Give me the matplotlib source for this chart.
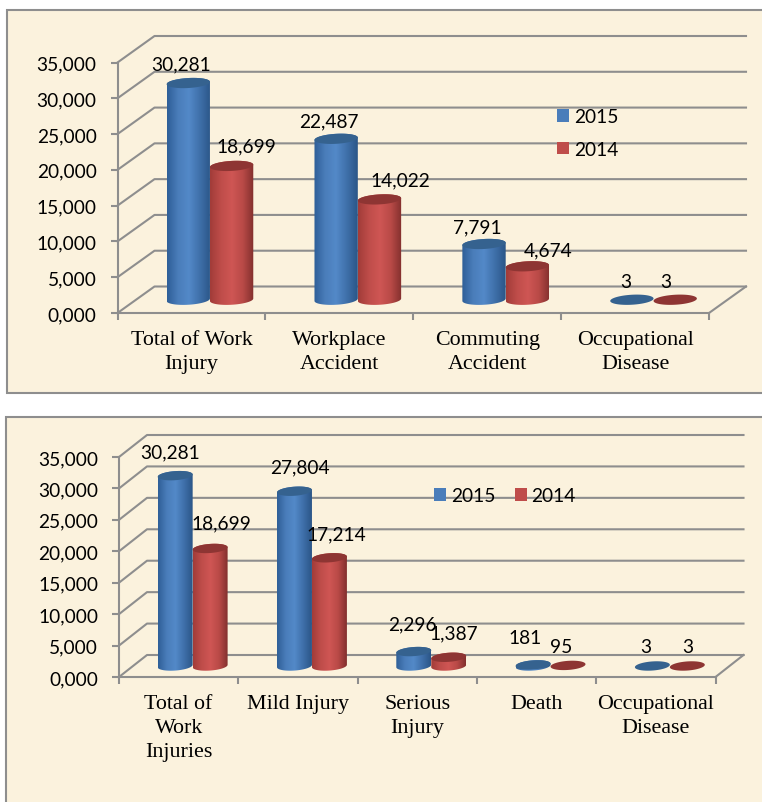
import numpy as np
import matplotlib
matplotlib.use('Agg')
import matplotlib.pyplot as plt
from matplotlib.colors import LinearSegmentedColormap
from matplotlib.patches import Polygon, Rectangle

# Data
cats_top = ['Total of Work\nInjury', 'Workplace\nAccident', 'Commuting\nAccident', 'Occupational\nDisease']
y2015_top = [30281, 22487, 7791, 3]
y2014_top = [18699, 14022, 4674, 3]

cats_bot = ['Total of\nWork\nInjuries', 'Mild Injury', 'Serious\nInjury', 'Death', 'Occupational\nDisease']
y2015_bot = [30281, 27804, 2296, 181, 3]
y2014_bot = [18699, 17214, 1387, 95, 3]

yticks = [0, 5000, 10000, 15000, 20000, 25000, 30000, 35000]
ytick_labels = ['0,000', '5,000', '10,000', '15,000', '20,000', '25,000', '30,000', '35,000']

# Label offsets from the top of each bar, in pixels
off15_top = [(-7, 19), (-7, 18), (-7, 17), (-6, 18)]
off14_top = [(15, 20), (21, 20), (21, 16), (-9, 18)]
off15_bot = [(-5, 24), (5, 24), (-1, 28), (-8, 27), (-7, 19)]
off14_bot = [(11, 26), (7, 24), (5, 24), (-7, 19), (0, 19)]

W, H = 762, 803
GRID = '#8e8e8e'
BG = '#fbf2dd'
blue_cm = LinearSegmentedColormap.from_list('b', ['#2f5f98', '#4a7dba', '#5389c8', '#3f70aa', '#2b5688'])
red_cm = LinearSegmentedColormap.from_list('r', ['#a23c39', '#bf4d4a', '#cf5654', '#b94a47', '#83302e'])
BLUE_CAP = '#35628f'
RED_CAP = '#8e3533'

plt.rcParams['font.family'] = ['Lato', 'DejaVu Sans']

fig = plt.figure(figsize=(W / 100, H / 100), dpi=100, facecolor='white')


def frame(x0, y0, x1, y1):
    fig.add_artist(Rectangle((x0 / W, 1 - y1 / H), (x1 - x0) / W, (y1 - y0) / H, transform=fig.transFigure,
                             facecolor=BG, edgecolor=GRID, linewidth=1.5, zorder=-5))


def ring(cx, cy, a, b, tilt, t):
    return np.column_stack([cx + a * np.cos(t), cy + b * np.sin(t) + tilt * np.cos(t)])


def cylinder(ax, cx, base, top, w, b, tilt, cmap, cap, z):
    a = w / 2
    if top - base > 100:
        low = ring(cx, base, a, b, tilt, np.linspace(np.pi, 2 * np.pi, 40))
        high = ring(cx, top, a, b, tilt, np.linspace(0, np.pi, 40))
        body = Polygon(np.vstack([low, high]), closed=True, facecolor='none', edgecolor='none', zorder=z)
        ax.add_patch(body)
        im = ax.imshow(np.linspace(0, 1, 80).reshape(1, -1), cmap=cmap, aspect='auto', interpolation='bilinear',
                       extent=(cx - a, cx + a, base - b * 2, top + b * 2), zorder=z)
        im.set_clip_path(body)
    ax.add_patch(Polygon(ring(cx, top, a, b, tilt, np.linspace(0, 2 * np.pi, 80)), closed=True,
                         facecolor=cap, edgecolor='none', zorder=z + 0.1, clip_on=False))


def panel(cats, v15, v14, off15, off14, box, depth_px, legend_anchor, legend_cols, cat_size):
    left, right, y_top, y_zero = box
    ax = fig.add_axes([left / W, 1 - y_zero / H, (right - left) / W, (y_zero - y_top) / H])
    ax.patch.set_alpha(0)
    n = len(cats)
    ax.set_xlim(0, n)
    ax.set_ylim(0, 35000)
    px_x = (right - left) / n
    px_y = (y_zero - y_top) / 35000
    dx = depth_px[0] / px_x
    dy = depth_px[1] / px_y

    # walls
    for v in yticks:
        ax.plot([0, dx, n + dx], [v, v + dy, v + dy], color=GRID, lw=1.5, clip_on=False, zorder=1)
    ax.plot([n, n + dx], [0, dy], color=GRID, lw=1.5, clip_on=False, zorder=1)

    w = 0.293
    b = 5.0 / px_y * (depth_px[1] / 26.5) ** 0.5
    tilt = 1.2 / px_y
    centres = np.arange(n) + 0.5 + dx / 2
    for i in range(n):
        cylinder(ax, centres[i] - w / 2, dy / 2, dy / 2 + v15[i], w, b, tilt, blue_cm, BLUE_CAP, 3)
        cylinder(ax, centres[i] + w / 2, dy / 2, dy / 2 + v14[i], w, b, tilt, red_cm, RED_CAP, 4)
        ax.annotate(f'{v15[i]:,}', (centres[i] - w / 2, dy / 2 + v15[i]), xytext=off15[i], textcoords='offset pixels',
                    ha='center', va='center', fontsize=13.8, color='black', zorder=6, annotation_clip=False)
        ax.annotate(f'{v14[i]:,}', (centres[i] + w / 2, dy / 2 + v14[i]), xytext=off14[i], textcoords='offset pixels',
                    ha='center', va='center', fontsize=13.8, color='black', zorder=6, annotation_clip=False)

    ax.set_xlim(0, n)
    ax.set_ylim(0, 35000)

    for s in ['top', 'right']:
        ax.spines[s].set_visible(False)
    for s in ['left', 'bottom']:
        ax.spines[s].set_color(GRID)
        ax.spines[s].set_linewidth(1.5)
    ax.set_yticks(yticks)
    ax.set_yticklabels(ytick_labels, fontsize=13.8, color='black')
    ax.tick_params(axis='y', length=5, width=1.5, color=GRID, pad=10)
    ax.set_xticks(range(n + 1))
    ax.set_xticklabels([])
    ax.tick_params(axis='x', which='major', length=5, width=1.5, color=GRID)
    ax.set_xticks(np.arange(n) + 0.5, minor=True)
    ax.set_xticklabels(cats, minor=True, family='Liberation Serif', fontsize=cat_size, linespacing=1.33)
    ax.tick_params(axis='x', which='minor', length=0, pad=12.5)

    handles = [Rectangle((0, 0), 1, 1, facecolor='#4a7dba'), Rectangle((0, 0), 1, 1, facecolor='#bf4d4a')]
    ax.legend(handles, ['2015', '2014'], loc='center', bbox_to_anchor=legend_anchor, bbox_transform=fig.transFigure,
              ncol=legend_cols, frameon=False, fontsize=13.8, handlelength=0.63, handleheight=0.63, handletextpad=0.25,
              columnspacing=1.0, labelspacing=0.8 if legend_cols == 1 else 0.5, borderpad=0)


frame(7, 11, 775, 394)
frame(6, 418, 775, 820)

panel(cats_top, y2015_top, y2014_top, off15_top, off14_top, (117.5, 709, 63.5, 314), (37, 26.5),
      (588 / W, 1 - 134 / H), 1, 15.8)
panel(cats_bot, y2015_bot, y2014_bot, off15_bot, off14_bot, (119, 715.5, 458, 678), (28, 22),
      (505 / W, 1 - 497 / H), 2, 15.8)

fig.savefig('out.png', dpi=100)
